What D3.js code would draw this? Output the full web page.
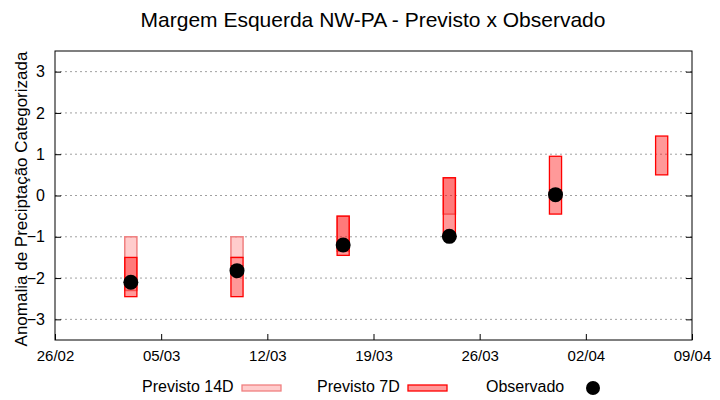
<!DOCTYPE html>
<html>
<head>
<meta charset="utf-8">
<script src="https://cdn.jsdelivr.net/npm/d3@7"></script>
<style>
  body { margin: 0; background: #fff; }
  svg { font-family: "Liberation Sans", Arial, sans-serif; }
</style>
</head>
<body>
<div id="chart"></div>
<script>
// week centre of each forecast
var weeks = ["03/03", "10/03", "17/03", "24/03", "31/03", "07/04"];
// Previsto 14D range (top / bottom)
var prev14Top = [-1.0, -1.0, -0.5, 0.43, null, null];
var prev14Bot = [-2.3, -1.5, -1.35, -0.45, null, null];
// Previsto 7D range (top / bottom)
var prev7Top = [-1.5, -1.5, -0.5, 0.43, 0.95, 1.44];
var prev7Bot = [-2.45, -2.45, -1.45, -1.0, -0.45, 0.5];
// observed anomaly
var observed = [-2.1, -1.82, -1.2, -0.99, 0.02, null];
// axis ticks
var xTickLabels = ["26/02", "05/03", "12/03", "19/03", "26/03", "02/04", "09/04"];
var yTicks = [-3, -2, -1, 0, 1, 2, 3];

var width = 720,
  height = 400,
  margin = { top: 51, right: 28, bottom: 60, left: 55 };

var parse = d3.timeParse("%d/%m/%Y");
var toDate = (s) => parse(s + "/2023");

var svg = d3
  .select("#chart")
  .append("svg")
  .attr("width", width)
  .attr("height", height);

var x = d3
  .scaleTime()
  .domain([toDate(xTickLabels[0]), toDate(xTickLabels[xTickLabels.length - 1])])
  .range([margin.left, width - margin.right]);
var y = d3
  .scaleLinear()
  .domain([-3.5, 3.5])
  .range([height - margin.bottom, margin.top]);

// grid
svg
  .append("g")
  .selectAll("line")
  .data(yTicks)
  .join("line")
  .attr("x1", margin.left)
  .attr("x2", width - margin.right)
  .attr("y1", (d) => y(d))
  .attr("y2", (d) => y(d))
  .attr("stroke", "#a0a0a0")
  .attr("stroke-width", 1)
  .attr("stroke-dasharray", "2,3");

// Y axis (ticks inside, mirrored)
var yAxis = d3
  .axisLeft(y)
  .tickValues(yTicks)
  .tickFormat(d3.format("d"))
  .tickSize(-6)
  .tickPadding(10)
  .tickSizeOuter(0);
var gy = svg.append("g").attr("transform", `translate(${margin.left},0)`).call(yAxis);
gy.select(".domain").remove();
gy.selectAll("text").attr("font-size", 16).attr("fill", "#000").attr("font-family", "Liberation Sans, Arial, sans-serif");
var yAxisR = d3.axisRight(y).tickValues(yTicks).tickSize(-6).tickFormat("").tickSizeOuter(0);
var gyr = svg.append("g").attr("transform", `translate(${width - margin.right},0)`).call(yAxisR);
gyr.select(".domain").remove();

// X axis
var xAxis = d3
  .axisBottom(x)
  .tickValues(xTickLabels.map(toDate))
  .tickFormat(d3.timeFormat("%d/%m"))
  .tickSize(-6)
  .tickPadding(10)
  .tickSizeOuter(0);
var gx = svg
  .append("g")
  .attr("transform", `translate(0,${height - margin.bottom})`)
  .call(xAxis);
gx.select(".domain").remove();
gx.selectAll("text").attr("font-size", 15).attr("fill", "#000").attr("font-family", "Liberation Sans, Arial, sans-serif");

// frame
svg
  .append("rect")
  .attr("x", margin.left)
  .attr("y", margin.top)
  .attr("width", width - margin.left - margin.right)
  .attr("height", height - margin.top - margin.bottom)
  .attr("fill", "none")
  .attr("stroke", "#000")
  .attr("stroke-width", 1);

var rows = weeks.map((w, i) => ({
  date: toDate(w),
  t14: prev14Top[i],
  b14: prev14Bot[i],
  t7: prev7Top[i],
  b7: prev7Bot[i],
  obs: observed[i],
}));

var halfDay = 0.4 * 864e5;

// Previsto 14D
svg
  .append("g")
  .selectAll("rect")
  .data(rows.filter((d) => d.t14 != null))
  .join("rect")
  .attr("x", (d) => x(new Date(+d.date - halfDay)))
  .attr("width", (d) => x(new Date(+d.date + halfDay)) - x(new Date(+d.date - halfDay)))
  .attr("y", (d) => y(d.t14))
  .attr("height", (d) => y(d.b14) - y(d.t14))
  .attr("fill", "rgba(255,0,0,0.2)")
  .attr("stroke", "#f08080")
  .attr("stroke-width", 1.5);

// Previsto 7D
svg
  .append("g")
  .selectAll("rect")
  .data(rows)
  .join("rect")
  .attr("x", (d) => x(new Date(+d.date - halfDay)))
  .attr("width", (d) => x(new Date(+d.date + halfDay)) - x(new Date(+d.date - halfDay)))
  .attr("y", (d) => y(d.t7))
  .attr("height", (d) => y(d.b7) - y(d.t7))
  .attr("fill", "rgba(255,0,0,0.4)")
  .attr("stroke", "#ff0000")
  .attr("stroke-width", 1.3);

// Observado
svg
  .append("g")
  .selectAll("circle")
  .data(rows.filter((d) => d.obs != null))
  .join("circle")
  .attr("cx", (d) => x(d.date))
  .attr("cy", (d) => y(d.obs))
  .attr("r", 7.5)
  .attr("fill", "#000");

// title
svg
  .append("text")
  .attr("x", 373)
  .attr("y", 27)
  .attr("text-anchor", "middle")
  .attr("font-size", 21)
  .text("Margem Esquerda NW-PA - Previsto x Observado");

// y label
svg
  .append("text")
  .attr("transform", `translate(27,199) rotate(-90)`)
  .attr("text-anchor", "middle")
  .attr("font-size", 17)
  .text("Anomalia de Precipta\u00e7\u00e3o Categorizada");

// legend
var legend = [
  { label: "Previsto 14D", x: 142, fill: "rgba(255,0,0,0.2)", stroke: "#f08080" },
  { label: "Previsto 7D", x: 317, fill: "rgba(255,0,0,0.4)", stroke: "#ff0000" },
];
var lg = svg.append("g").selectAll("g").data(legend).join("g");
lg.append("text")
  .attr("x", (d) => d.x)
  .attr("y", 392)
  .attr("font-size", 16)
  .text((d) => d.label);
lg.append("rect")
  .attr("x", (d, i) => (i == 0 ? 242 : 408))
  .attr("y", 385)
  .attr("width", 39)
  .attr("height", 6)
  .attr("fill", (d) => d.fill)
  .attr("stroke", (d) => d.stroke)
  .attr("stroke-width", 1.3);
svg.append("text").attr("x", 486).attr("y", 392).attr("font-size", 16).text("Observado");
svg.append("circle").attr("cx", 593).attr("cy", 388).attr("r", 7).attr("fill", "#000");
</script>
</body>
</html>
